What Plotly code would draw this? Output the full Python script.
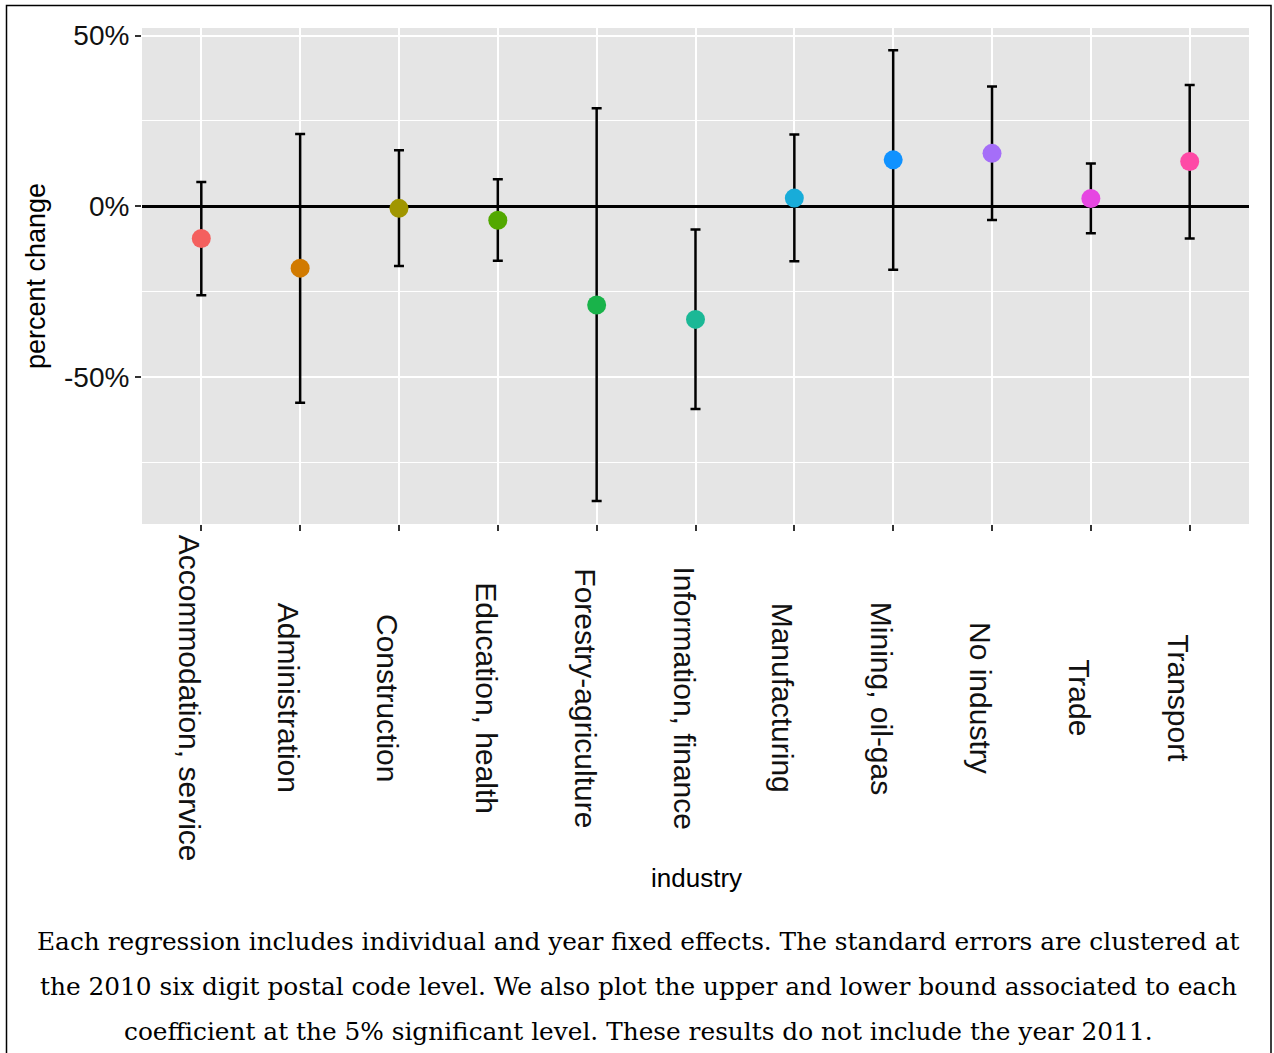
import plotly.graph_objects as go

# ---- data ----
industries = [
    "Accommodation, service", "Administration", "Construction", "Education, health",
    "Forestry-agriculture", "Information, finance", "Manufacturing", "Mining, oil-gas",
    "No industry", "Trade", "Transport",
]
estimate = [-0.094, -0.181, -0.006, -0.041, -0.289, -0.331, 0.024, 0.136, 0.155, 0.023, 0.131]
upper    = [0.071, 0.212, 0.164, 0.079, 0.287, -0.068, 0.210, 0.457, 0.351, 0.125, 0.355]
lower    = [-0.260, -0.575, -0.175, -0.159, -0.863, -0.593, -0.161, -0.186, -0.040, -0.079, -0.094]
point_colors = ["#F4605E", "#D17A00", "#A09600", "#52A800", "#19B34A", "#1BB896",
                "#18ACD9", "#1092FF", "#A56EF8", "#E647E2", "#FE4AA6"]
y_tickvals = [-0.5, 0.0, 0.5]
y_ticktext = ["-50%", "0%", "50%"]
y_minorvals = [-0.75, -0.25, 0.25]
caption_lines = [
    "Each regression includes individual and year fixed effects. The standard errors are clustered at",
    "the 2010 six digit postal code level. We also plot the upper and lower bound associated to each",
    "coefficient at the 5% significant level. These results do not include the year 2011.",
]

err_plus = [u - e for u, e in zip(upper, estimate)]
err_minus = [e - l for e, l in zip(estimate, lower)]

W, H = 1274, 1053
L, R, T, B = 142, 25, 28, 529
PW, PH = W - L - R, H - T - B

def px_x(px):
    return (px - L) / PW

def px_y(py):
    return (H - B - py) / PH

fig = go.Figure()
fig.add_trace(go.Scatter(
    x=industries, y=estimate, mode="markers",
    marker=dict(size=19, color=point_colors, line=dict(width=0)),
    error_y=dict(type="data", symmetric=False, array=err_plus, arrayminus=err_minus,
                 color="black", thickness=2.5, width=5),
    showlegend=False,
))

sans = "Liberation Sans, Arial, Helvetica, sans-serif"
serif = "DejaVu Serif, Liberation Serif, serif"

fig.update_layout(
    width=W, height=H,
    margin=dict(l=L, r=R, t=T, b=B, autoexpand=False),
    paper_bgcolor="white", plot_bgcolor="#E5E5E5",
    font=dict(family=sans, color="black"),
    xaxis=dict(
        type="category", range=[-0.6, 10.6], showticklabels=False,
        ticks="outside", ticklen=6, tickwidth=2, tickcolor="#333333",
        showgrid=True, gridcolor="white", gridwidth=2.2, zeroline=False,
        showline=False, fixedrange=True,
    ),
    yaxis=dict(
        range=[-0.930, 0.522], tickvals=y_tickvals, ticktext=y_ticktext,
        tickfont=dict(size=28, color="#111111", family=sans),
        ticks="outside", ticklen=6, tickwidth=2, tickcolor="#333333",
        showgrid=True, gridcolor="white", gridwidth=2.2,
        zeroline=True, zerolinecolor="black", zerolinewidth=2.5,
        minor=dict(tickvals=y_minorvals, showgrid=True, gridcolor="white",
                   gridwidth=1.1, ticks=""),
        title=dict(text="percent change", font=dict(size=27, family=sans), standoff=10),
        showline=False, fixedrange=True,
    ),
)

annotations = []
for name in industries:
    annotations.append(dict(
        x=name, xref="x", y=px_y(698), yref="paper", text=name, showarrow=False,
        textangle=90, xanchor="center", yanchor="middle", xshift=-11,
        font=dict(size=30, family=sans, color="#111111"),
    ))
annotations.append(dict(
    x=px_x(696), y=px_y(878), xref="paper", yref="paper", text="industry",
    showarrow=False, xanchor="center", yanchor="middle",
    font=dict(size=26, family=sans, color="black"),
))
for line, py in zip(caption_lines, [941, 986, 1031]):
    annotations.append(dict(
        x=px_x(638.5), y=px_y(py), xref="paper", yref="paper", text=line,
        showarrow=False, xanchor="center", yanchor="middle",
        font=dict(size=24.8, family=serif, color="black"),
    ))
fig.update_layout(annotations=annotations)

# outer frame around the whole figure (open at the bottom edge of the page)
fig.add_shape(type="rect", xref="paper", yref="paper",
              x0=px_x(6.5), x1=px_x(1271), y0=px_y(1062), y1=px_y(5.5),
              line=dict(color="black", width=1.5), fillcolor="rgba(0,0,0,0)", layer="above")

fig.write_html("out.html", config={"displayModeBar": False},
               post_script="document.body.style.margin='0px';")
